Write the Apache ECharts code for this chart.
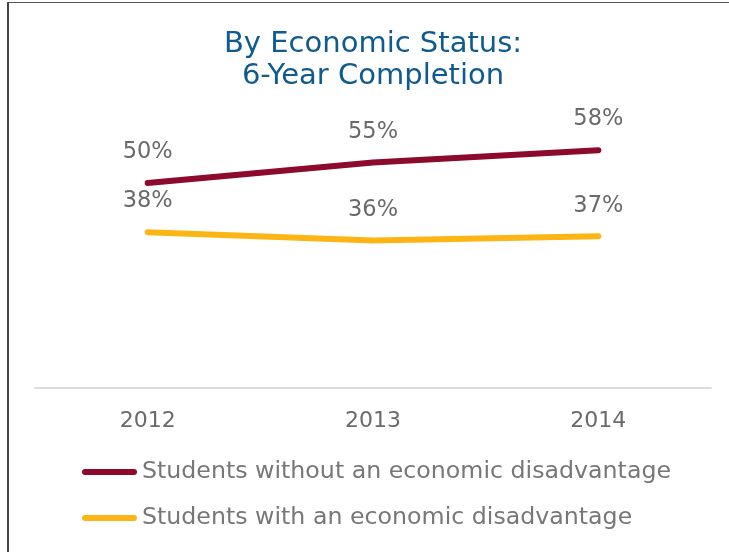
<!DOCTYPE html>
<html>
<head>
<meta charset="utf-8">
<style>
  html, body { margin: 0; padding: 0; background: #fff; }
  #chart { width: 729px; height: 552px; }
</style>
<script src="https://cdn.jsdelivr.net/npm/echarts@6/dist/echarts.min.js"></script>
</head>
<body>
<div id="chart"></div>
<script>
// Cohort years on the x axis
const years = ['2012', '2013', '2014'];
// Six-year completion rates, in percent
const withoutDisadvantage = [50, 55, 58];
const withDisadvantage = [38, 36, 37];
// Series names shown in the legend
const seriesNames = [
  'Students without an economic disadvantage',
  'Students with an economic disadvantage'
];

const FONT = '"DejaVu Sans", "Open Sans", sans-serif';
const chart = echarts.init(document.getElementById('chart'), null, { renderer: 'canvas' });

const pill = 'path://M3,0 H52 A3,3 0 0 1 52,6 H3 A3,3 0 0 1 3,0 Z';

const valueLabel = {
  show: true,
  position: 'top',
  distance: 19,
  formatter: '{c}%',
  color: '#6a6a6a',
  fontFamily: FONT,
  fontSize: 22.5
};

chart.setOption({
  backgroundColor: '#ffffff',
  animation: false,
  title: {
    text: 'By Economic Status:\n6-Year Completion',
    // heading is centred a little right of the canvas middle
    left: 368,
    textAlign: 'center',
    top: 23,
    textStyle: {
      color: '#0f5a8e',
      fontFamily: FONT,
      fontWeight: 'normal',
      fontSize: 29,
      lineHeight: 32
    }
  },
  legend: {
    orient: 'vertical',
    left: 77,
    top: 454,
    itemWidth: 55,
    itemHeight: 6,
    itemGap: 20,
    textStyle: {
      color: '#777777',
      fontFamily: FONT,
      fontSize: 23.7,
      lineHeight: 26
    },
    data: [
      { name: seriesNames[0], icon: pill },
      { name: seriesNames[1], icon: pill }
    ]
  },
  grid: { left: 35, right: 18, top: 101, bottom: 164 },
  xAxis: {
    type: 'category',
    data: years,
    boundaryGap: true,
    axisLine: { lineStyle: { color: '#dddddd', width: 2 } },
    axisTick: { show: false },
    axisLabel: {
      color: '#6a6a6a',
      fontFamily: FONT,
      fontSize: 22,
      margin: 22
    }
  },
  yAxis: {
    type: 'value',
    min: 0,
    max: 70,
    show: false,
    splitLine: { show: false }
  },
  series: [
    {
      name: seriesNames[0],
      type: 'line',
      data: withoutDisadvantage,
      color: '#8c0a2c',
      symbol: 'circle',
      symbolSize: 0.1,
      lineStyle: { width: 6, cap: 'round' },
      label: valueLabel
    },
    {
      name: seriesNames[1],
      type: 'line',
      data: withDisadvantage,
      color: '#fdb515',
      symbol: 'circle',
      symbolSize: 0.1,
      lineStyle: { width: 6, cap: 'round' },
      label: valueLabel
    }
  ],
  graphic: [
    // frame edges along the top and left
    { type: 'rect', shape: { x: 7, y: 2, width: 722, height: 1 }, style: { fill: '#555555' }, silent: true },
    { type: 'rect', shape: { x: 7, y: 2, width: 2, height: 550 }, style: { fill: '#444444' }, silent: true }
  ]
});
</script>
</body>
</html>
